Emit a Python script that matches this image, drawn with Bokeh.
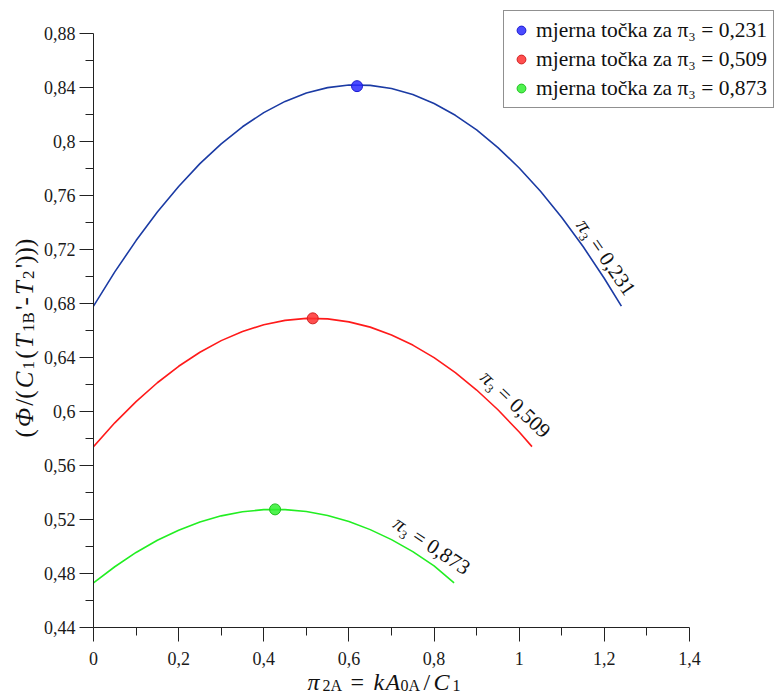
from bokeh.plotting import figure
from bokeh.layouts import column
from bokeh.models import FixedTicker, Label, Legend, LegendItem
from bokeh.embed import file_html
from bokeh.resources import INLINE

FONT = "'Liberation Serif'"

# ---- data ----
x_blue = [0, 0.05, 0.1, 0.15, 0.2, 0.25, 0.3, 0.35, 0.4, 0.45, 0.5, 0.55, 0.6,
          0.65, 0.7, 0.75, 0.8, 0.85, 0.9, 0.95, 1.0, 1.05, 1.1, 1.15, 1.2, 1.24]
y_blue = [0.678, 0.7034, 0.7266, 0.7478, 0.7667, 0.7836, 0.7983, 0.8109, 0.8214,
          0.8297, 0.8359, 0.8399, 0.8418, 0.8416, 0.8393, 0.8348, 0.8282, 0.8194,
          0.8086, 0.7955, 0.7804, 0.7631, 0.7437, 0.7222, 0.6985, 0.678]

x_red = [0, 0.05, 0.1, 0.15, 0.2, 0.25, 0.3, 0.35, 0.4, 0.45, 0.5, 0.55, 0.6,
         0.65, 0.7, 0.75, 0.8, 0.85, 0.9, 0.95, 1.0, 1.03]
y_red = [0.574, 0.5916, 0.6073, 0.6213, 0.6335, 0.6439, 0.6525, 0.6593, 0.6643,
         0.6675, 0.669, 0.6686, 0.6664, 0.6625, 0.6567, 0.6492, 0.6399, 0.6288,
         0.6159, 0.6013, 0.5848, 0.574]

x_green = [0, 0.05, 0.1, 0.15, 0.2, 0.25, 0.3, 0.35, 0.4, 0.45, 0.5, 0.55, 0.6,
           0.65, 0.7, 0.75, 0.8, 0.847]
y_green = [0.473, 0.485, 0.4956, 0.5046, 0.5121, 0.5182, 0.5227, 0.5257, 0.5273,
           0.5273, 0.5259, 0.5229, 0.5185, 0.5125, 0.5051, 0.4962, 0.4857, 0.473]

meas_x = [0.619, 0.515, 0.4265]
meas_y = [0.841, 0.669, 0.5275]

pi3_values = ["0,231", "0,509", "0,873"]
legend_labels = ["mjerna točka za π₃ = " + v for v in pi3_values]

# curve annotation anchors (junction between "π" and "₃ = ...") and angles
ann_x = [1.1600, 0.935, 0.730]
ann_y = [0.7345, 0.6225, 0.5145]
ann_angle = [-55.5, -43.7, -34.0]

xticks = [0, 0.2, 0.4, 0.6, 0.8, 1, 1.2, 1.4]
xlabels = ["0", "0,2", "0,4", "0,6", "0,8", "1", "1,2", "1,4"]
xminor = [0.1, 0.3, 0.5, 0.7, 0.9, 1.1, 1.3]
yticks = [0.44, 0.48, 0.52, 0.56, 0.6, 0.64, 0.68, 0.72, 0.76, 0.8, 0.84, 0.88]
ylabels = ["0,44", "0,48", "0,52", "0,56", "0,6", "0,64", "0,68", "0,72",
           "0,76", "0,8", "0,84", "0,88"]
yminor = [0.46, 0.5, 0.54, 0.58, 0.62, 0.66, 0.7, 0.74, 0.78, 0.82, 0.86]

line_colors = ["#1b3ba4", "#ff1a1a", "#22ee22"]
dot_fill = ["#2a2aff", "#ff3030", "#30f030"]
dot_line = ["#1a1ad0", "#d02020", "#20c020"]

W, H = 779, 699
FL, FB = 93, 627          # frame left / bottom in canvas pixels
x_end = 1.4 * (W - FL) / 596
y_end = 0.44 + 0.44 * FB / 594

p = figure(width=W, height=H, x_range=(0, x_end), y_range=(0.44, y_end),
           output_backend="svg", toolbar_location=None,
           min_border_left=FL, min_border_right=0,
           min_border_top=0, min_border_bottom=H - FB)
p.frame_align = False
p.grid.visible = False
p.outline_line_color = None

p.xaxis.ticker = FixedTicker(ticks=xticks, minor_ticks=xminor)
p.xaxis.major_label_overrides = dict(zip(xticks, xlabels))
p.xaxis.bounds = (0, 1.4)
p.yaxis.ticker = FixedTicker(ticks=yticks, minor_ticks=yminor)
p.yaxis.major_label_overrides = dict(zip(yticks, ylabels))
p.yaxis.bounds = (0.44, 0.88)

for ax in (p.xaxis[0], p.yaxis[0]):
    ax.axis_line_color = "#222222"
    ax.major_tick_line_color = "#222222"
    ax.minor_tick_line_color = "#222222"
    ax.major_tick_out = 14
    ax.major_tick_in = 0
    ax.minor_tick_out = 8
    ax.minor_tick_in = 0
    ax.major_label_text_font = FONT
    ax.major_label_text_font_size = "18px"
    ax.major_label_text_color = "#1a1a1a"
p.xaxis.major_label_standoff = 10
p.yaxis.major_label_standoff = 4

for xs, ys, c in ((x_blue, y_blue, line_colors[0]),
                  (x_red, y_red, line_colors[1]),
                  (x_green, y_green, line_colors[2])):
    p.line(xs, ys, line_color=c, line_width=1.6)

dot_renderers = []
for i in range(3):
    r = p.scatter([meas_x[i]], [meas_y[i]], size=11, marker="circle",
                  fill_color=dot_fill[i], fill_alpha=0.85,
                  line_color=dot_line[i], line_width=1)
    dot_renderers.append(r)

for i in range(3):
    p.add_layout(Label(x=ann_x[i], y=ann_y[i], text="π", angle=ann_angle[i],
                       angle_units="deg", text_font=FONT, text_font_style="italic",
                       text_font_size="21px", text_align="right",
                       text_baseline="middle", text_color="#111111"))
    p.add_layout(Label(x=ann_x[i], y=ann_y[i], text="₃ = " + pi3_values[i],
                       angle=ann_angle[i], angle_units="deg", text_font=FONT,
                       text_font_size="21px", text_align="left",
                       text_baseline="middle", text_color="#111111"))

legend = Legend(items=[LegendItem(label=legend_labels[i], renderers=[dot_renderers[i]])
                       for i in range(3)],
                location=(410, 519), label_text_font=FONT,
                label_text_font_size="21.5px", label_text_color="#111111",
                glyph_width=22, glyph_height=22, label_standoff=4,
                padding=6, spacing=3, label_height=26, margin=0,
                border_line_color="#222222", border_line_width=1,
                background_fill_color="white", background_fill_alpha=1)
p.add_layout(legend)

# ---- transparent overlay carrying the axis titles (canvas pixel coordinates) ----
q = figure(width=W, height=H, x_range=(0, W), y_range=(0, H),
           output_backend="svg", toolbar_location=None,
           x_axis_location=None, y_axis_location=None,
           min_border_left=0, min_border_right=0, min_border_top=0, min_border_bottom=0)
q.frame_align = False
q.grid.visible = False
q.outline_line_color = None
q.background_fill_alpha = 0
q.border_fill_alpha = 0
q.margin = (-H, 0, 0, 0)

def cy(page_y):
    return H - page_y

xt_pieces = [("π", 307, 681, "italic", 24), ("2A", 322, 685, "normal", 16),
             ("=", 350, 681, "normal", 24), ("k", 373, 681, "italic", 24),
             ("A", 385, 681, "italic", 24), ("0A", 400, 685, "normal", 16),
             ("/", 423, 681, "normal", 24), ("C", 433, 681, "italic", 24),
             ("1", 452, 685, "normal", 16)]
for t, x0, y0, st, fs in xt_pieces:
    q.add_layout(Label(x=x0, y=cy(y0), text=t, text_font=FONT,
                       text_font_style=st, text_font_size=f"{fs}px",
                       text_align="left", text_baseline="alphabetic",
                       text_color="#111111"))

# y title: pieces chained upward using approximate Times-metric advance widths (em)
EM = {"(": 0.333, ")": 0.333, "/": 0.278, "'": 0.18, "-": 0.333, "1": 0.5,
      "2": 0.5, "B": 0.667, "Φ": 0.76, "C": 0.667, "T": 0.556}
MAIN, SUB, GAP = 25, 17, 2.2
yt_pieces = [("(", "n"), ("Φ", "i"), ("/(", "n"), ("C", "i"), ("1", "s"),
             ("(", "n"), ("T", "i"), ("1B", "s"), ("'-", "n"), ("T", "i"),
             ("2", "s"), ("')))", "n")]
pos = 437.0
for t, st in yt_pieces:
    fs = SUB if st == "s" else MAIN
    bx = 28 if st == "s" else 24
    q.add_layout(Label(x=bx, y=cy(pos), text=t, text_font=FONT,
                       text_font_style="italic" if st == "i" else "normal",
                       text_font_size=f"{fs}px", angle=90, angle_units="deg",
                       text_align="left", text_baseline="alphabetic",
                       text_color="#111111"))
    pos -= sum(EM[ch] for ch in t) * fs + GAP

layout = column(p, q)
open("out.html", "w").write(file_html(layout, INLINE))
